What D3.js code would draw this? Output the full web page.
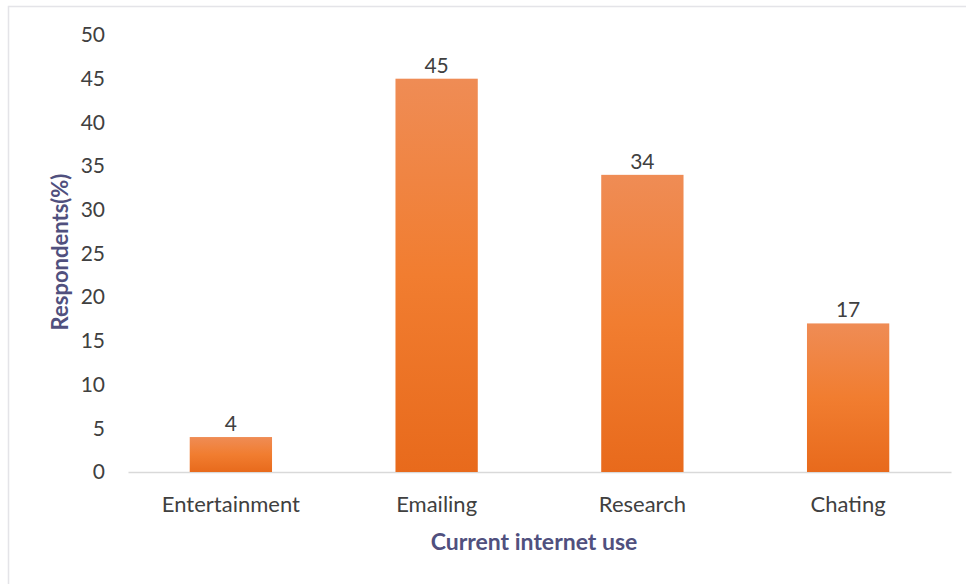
<!DOCTYPE html>
<html>
<head>
<meta charset="utf-8">
<script src="https://cdn.jsdelivr.net/npm/d3@7"></script>
<style>
  body { margin: 0; background: #fff; }
  text { font-family: Lato, "Open Sans", sans-serif; }
</style>
</head>
<body>
<svg id="chart"></svg>
<script>
const categories = ['Entertainment', 'Emailing', 'Research', 'Chating'];
const values = [4, 45, 34, 17];
const yTicks = [0, 5, 10, 15, 20, 25, 30, 35, 40, 45, 50];

const W = 966, H = 584;
const margin = { top: 35, right: 15, bottom: 112, left: 128 };
const width = 951 - margin.left;
const height = 472 - margin.top;

const svg = d3.select('#chart')
    .attr('width', W)
    .attr('height', H);

// faint frame of the original image
svg.append('path')
    .attr('d', `M8.5,${H} V6.5 H${W}`)
    .attr('fill', 'none')
    .attr('stroke', '#e4e4e8')
    .attr('stroke-width', 1.5);

const grad = svg.append('defs').append('linearGradient')
    .attr('id', 'barGrad')
    .attr('x1', 0).attr('y1', 0).attr('x2', 0).attr('y2', 1);
grad.append('stop').attr('offset', '0%').attr('stop-color', '#ef8c55');
grad.append('stop').attr('offset', '50%').attr('stop-color', '#f17d30');
grad.append('stop').attr('offset', '100%').attr('stop-color', '#e86a1c');

const g = svg.append('g')
    .attr('transform', `translate(${margin.left},${margin.top})`);

const x = d3.scaleBand()
    .domain(categories)
    .range([0, width])
    .paddingInner(0.6)
    .paddingOuter(0.3);

const y = d3.scaleLinear()
    .domain([0, 50])
    .range([height, 0]);

// y axis: labels only
const yAxis = g.append('g')
    .call(d3.axisLeft(y).tickValues(yTicks).tickSize(0).tickPadding(23));
yAxis.select('.domain').remove();
yAxis.selectAll('text')
    .style('font-size', '21px')
    .attr('fill', '#404040');

// x axis
const xAxis = g.append('g')
    .attr('transform', `translate(0,${height})`)
    .call(d3.axisBottom(x).tickSize(0).tickPadding(24));
xAxis.select('.domain').attr('stroke', '#d9d9d9').attr('stroke-width', 1.5);
xAxis.selectAll('text')
    .style('font-size', '22px')
    .attr('fill', '#404040');

const data = categories.map((c, i) => ({ cat: c, val: values[i] }));

g.selectAll('.bar')
    .data(data)
    .enter().append('rect')
    .attr('class', 'bar')
    .attr('x', d => x(d.cat))
    .attr('y', d => y(d.val))
    .attr('width', x.bandwidth())
    .attr('height', d => height - y(d.val))
    .attr('fill', 'url(#barGrad)');

g.selectAll('.label')
    .data(data)
    .enter().append('text')
    .attr('class', 'label')
    .attr('x', d => x(d.cat) + x.bandwidth() / 2)
    .attr('y', d => y(d.val) - 6)
    .attr('text-anchor', 'middle')
    .style('font-size', '21px')
    .attr('fill', '#404040')
    .text(d => d.val);

svg.append('text')
    .attr('x', 534)
    .attr('y', 550)
    .attr('text-anchor', 'middle')
    .style('font-size', '23px')
    .style('font-weight', 'bold')
    .attr('fill', '#50507e')
    .text('Current internet use');

svg.append('text')
    .attr('transform', 'translate(68,252) rotate(-90)')
    .attr('text-anchor', 'middle')
    .style('font-size', '22px')
    .style('font-weight', 'bold')
    .attr('fill', '#50507e')
    .text('Respondents(%)');
</script>
</body>
</html>
